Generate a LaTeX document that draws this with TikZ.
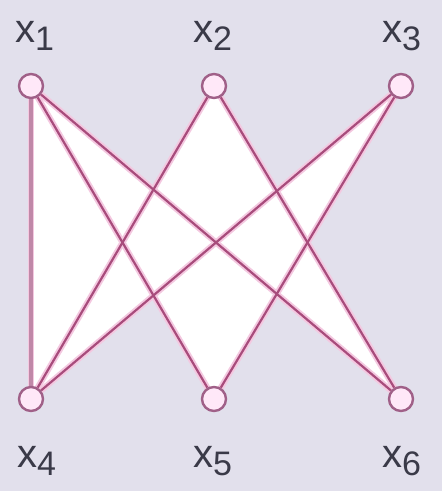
\documentclass[tikz,border=0pt]{standalone}
\usepackage{fontspec}
\setmainfont{Liberation Sans}
\usetikzlibrary{backgrounds}
\definecolor{paperbg}{HTML}{E2E0EC}
\definecolor{edgecol}{HTML}{A84C7C}
\definecolor{sidecol}{HTML}{C088A8}
\definecolor{glowcol}{HTML}{F4C8E0}
\definecolor{ringcol}{HTML}{A06088}
\definecolor{dotfill}{HTML}{FFE8F8}
\definecolor{labelcol}{HTML}{3A3A48}
\newcommand{\xlab}[1]{x\raisebox{-8pt}{\fontsize{34}{34}\selectfont #1}}

\begin{document}
\begin{tikzpicture}[x=1pt, y=-1pt,
  vertex/.style={circle, draw=ringcol, fill=dotfill, line width=2.4pt,
                 minimum size=24pt, inner sep=0pt},
  lbl/.style={anchor=base west, inner sep=0pt, text=labelcol,
              font=\fontsize{40}{40}\selectfont},
  glow/.style={glowcol, line width=6pt},
  link/.style={edgecol, line width=2.2pt},
]
  % vertices
  \node[vertex] (x1) at (31,86) {};
  \node[vertex] (x2) at (214,86) {};
  \node[vertex] (x3) at (401,86) {};
  \node[vertex] (x4) at (31,399) {};
  \node[vertex] (x5) at (214,399) {};
  \node[vertex] (x6) at (401,399) {};
  % labels
  \node[lbl] (l1) at (15,42) {\xlab{1}};
  \node[lbl] (l2) at (193,42) {\xlab{2}};
  \node[lbl] (l3) at (382,42) {\xlab{3}};
  \node[lbl] (l4) at (17,467) {\xlab{4}};
  \node[lbl] (l5) at (193,467) {\xlab{5}};
  \node[lbl] (l6) at (382,467) {\xlab{6}};
  \begin{pgfonlayer}{background}
    \fill[paperbg] (0,0) rectangle (442,491);
    \fill[white] (x1.center) -- (x4.center)
      -- (intersection of x4--x3 and x1--x5) -- (x5.center)
      -- (intersection of x5--x3 and x1--x6) -- (x6.center)
      -- (intersection of x6--x2 and x3--x5) -- (x3.center)
      -- (intersection of x3--x4 and x2--x6) -- (x2.center)
      -- (intersection of x2--x4 and x1--x6) -- cycle;
    \foreach \from/\to in {x1/x4, x1/x5, x1/x6, x2/x4, x2/x6, x3/x4, x3/x5} {
      \draw[glow] (\from.center) -- (\to.center);
    }
    \draw[link, sidecol, line width=3.4pt] (x1) -- (x4);
    \foreach \from/\to in {x1/x5, x1/x6, x2/x4, x2/x6, x3/x4, x3/x5} {
      \draw[link] (\from) -- (\to);
    }
  \end{pgfonlayer}
\end{tikzpicture}
\end{document}
